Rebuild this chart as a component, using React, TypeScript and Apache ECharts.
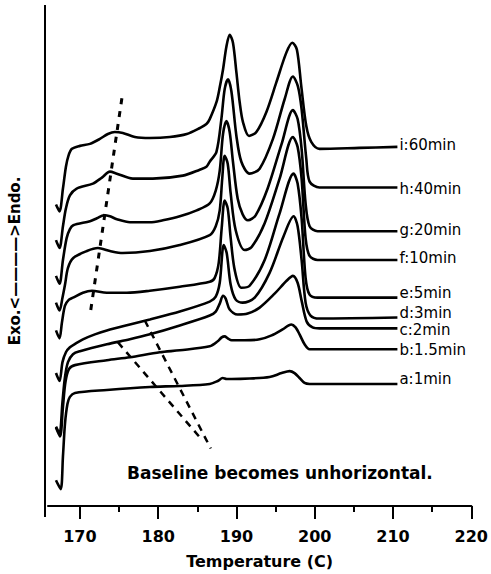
import React, { useEffect, useRef } from "react";
import * as echarts from "echarts";

// Temperature (C) vs heat flow (a.u., endo up)
const curveA: [number, number][] = [[166.94,26],[167.54,17],[167.83,50],[168.09,83],[168.41,103],[168.72,110],[169.36,114],[173.44,117],[178.93,120],[182.76,121],[186.58,123],[187.60,126],[188.24,129],[188.75,128],[189.39,128],[191.68,128.5],[194.23,130],[195.77,134],[196.79,136],[197.42,134],[198.06,129],[198.70,124],[199.34,123],[210.56,123]];
const curveB: [number, number][] = [[166.94,79],[167.45,70],[167.83,100],[168.15,125],[168.60,138],[169.36,142],[173.44,147],[176.38,150],[180.20,155],[182.76,157],[186.58,161],[187.60,166],[188.11,170],[188.49,171],[188.88,169],[189.39,167],[191.05,167],[192.96,168],[194.49,172],[195.89,178],[197.00,183],[197.55,180],[198.06,173],[198.70,163],[199.34,158],[200.61,158],[210.56,158]];
const curveC: [number, number][] = [[166.94,80],[167.39,73],[167.77,105],[168.09,130],[168.47,145],[169.11,153],[170.00,156],[173.44,163],[176.38,168],[178.93,173],[182.76,182],[186.58,192],[187.35,196],[187.86,204],[188.28,212],[188.62,209],[189.13,198],[190.15,193],[191.43,194],[192.96,200],[194.87,214],[196.40,227],[197.21,232],[197.81,225],[198.32,207],[198.96,186],[199.72,180],[200.61,179],[210.56,179]];
const curveD: [number, number][] = [[166.94,134],[167.39,126],[167.77,145],[168.21,155],[168.72,160],[169.49,164],[170.38,168],[171.91,173],[173.44,177],[176.38,183],[178.93,188],[182.76,196],[186.58,206],[187.35,211],[187.86,225],[188.37,263],[188.75,255],[189.26,223],[189.90,208],[190.79,205],[192.32,210],[194.23,235],[196.02,272],[197.30,292],[197.81,282],[198.32,248],[198.83,205],[199.46,192],[200.61,189],[210.56,190]];
const curveE: [number, number][] = [[166.94,177],[167.39,169],[167.70,185],[168.09,202],[168.60,208],[169.11,210],[170.38,215],[171.53,217],[173.44,215],[175.99,215],[178.93,217],[182.76,221],[186.58,226],[187.22,230],[187.73,245],[188.11,280],[188.49,308],[188.88,300],[189.26,270],[189.77,238],[190.62,220],[191.68,222],[193.60,248],[195.51,295],[197.30,335],[197.81,325],[198.32,290],[198.83,230],[199.34,213],[200.36,210],[210.56,210]];
const curveF: [number, number][] = [[166.94,205],[167.39,197],[167.77,210],[168.09,223],[168.47,240],[169.15,250],[170.89,257],[172.30,260],[173.83,257],[175.48,255],[178.93,257],[182.76,263],[186.58,273],[187.35,282],[187.86,298],[188.18,330],[188.49,353],[188.88,345],[189.26,315],[189.90,278],[191.05,258],[191.94,261],[193.60,285],[195.51,330],[197.21,372],[197.81,362],[198.32,330],[198.83,270],[199.34,252],[200.36,248],[210.56,248]];
const curveG: [number, number][] = [[166.94,232],[167.39,224],[167.83,248],[168.30,270],[168.72,279],[169.15,283],[171.28,287],[172.17,290],[173.06,293],[173.83,292],[174.72,289],[176.38,286],[178.93,286],[180.59,288],[182.76,292],[184.92,298],[186.58,305],[187.35,318],[187.86,338],[188.28,375],[188.71,388],[189.13,377],[189.55,347],[190.15,310],[190.79,294],[191.47,288],[192.45,293],[193.98,320],[195.77,365],[197.21,399],[197.81,390],[198.32,360],[198.83,305],[199.34,282],[200.36,277],[210.56,277]];
const curveH: [number, number][] = [[166.94,268],[167.39,260],[167.83,282],[168.21,300],[168.72,313],[169.58,320],[171.66,325],[172.81,331],[173.83,337],[174.72,335],[176.76,330],[179.31,330],[183.14,333],[185.31,339],[186.16,342],[186.58,347],[187.44,357],[188.07,390],[188.49,420],[188.92,430],[189.35,418],[189.99,373],[190.62,347],[191.68,335],[192.96,340],[194.66,370],[196.15,410],[197.21,433],[197.85,423],[198.32,400],[198.92,350],[199.34,327],[200.61,321],[210.56,321]];
const curveI: [number, number][] = [[166.94,304],[167.39,297],[167.83,320],[168.21,342],[168.53,353],[168.98,360],[170.00,363],[171.28,365],[172.55,370],[173.57,375],[174.46,377],[175.48,376],[177.02,372],[178.93,371],[181.48,372],[183.65,375],[185.31,381],[186.16,385],[186.58,390],[187.44,407],[187.86,422],[188.28,440],[188.71,463],[189.13,475],[189.55,467],[189.99,437],[190.41,407],[190.83,387],[191.60,373],[192.54,377],[193.81,397],[195.09,427],[196.37,457],[197.13,467],[197.72,460],[198.28,423],[198.92,383],[199.55,367],[200.61,360],[205.71,361],[210.56,362]];

const curveLabels = ["a:1min", "b:1.5min", "c:2min", "d:3min", "e:5min", "f:10min", "g:20min", "h:40min", "i:60min"];
const curves = [curveA, curveB, curveC, curveD, curveE, curveF, curveG, curveH, curveI];
const labelDy = [-5, 1, 2, -5, -5, -2, -1, 1, -2];

// annotation guide lines
const humpLine: [number, number][] = [[175.36, 411], [171.28, 192]];
const baselineGuide1: [number, number][] = [[174.85, 165], [185.56, 67]];
const baselineGuide2: [number, number][] = [[178.29, 187], [186.71, 58]];

const majorTicks = [170, 180, 190, 200, 210, 220];
const minorTicks = [175, 185, 195, 205, 215];
const xMin = 165.92;
const xMax = 220;

export default function App() {
  const ref = useRef<HTMLDivElement>(null);
  useEffect(() => {
    if (!ref.current) return;
    const chart = echarts.init(ref.current, null, { renderer: "svg" });
    const font = '"DejaVu Sans", sans-serif';
    const curveSeries = curves.map((c, i) => ({
      type: "line",
      name: curveLabels[i],
      data: c,
      xAxisIndex: 0,
      symbol: "none",
      smooth: 0.3,
      lineStyle: { color: "#000", width: 2.6 },
      endLabel: {
        show: true,
        formatter: curveLabels[i],
        distance: 2,
        offset: [0, labelDy[i]],
        color: "#000",
        fontFamily: font,
        fontSize: 15,
        lineHeight: 14,
      },
      z: 3,
    }));
    const guide = (d: [number, number][], dash: number[], w: number) => ({
      type: "line",
      data: d,
      symbol: "none",
      lineStyle: { color: "#000", width: w, type: dash },
      z: 4,
    });
    chart.setOption({
      animation: false,
      grid: { left: 48, right: 19, top: 5, bottom: 64 },
      xAxis: [
        {
          type: "value",
          min: xMin,
          max: xMax,
          name: "Temperature (C)",
          nameLocation: "middle",
          nameGap: 47,
          nameTextStyle: { fontFamily: font, fontWeight: "bold", fontSize: 16, color: "#000" },
          axisLine: { show: true, lineStyle: { color: "#000", width: 2 } },
          axisTick: { show: true, length: 13, lineStyle: { color: "#000", width: 2 }, customValues: majorTicks },
          axisLabel: { customValues: majorTicks, margin: 22, color: "#000", fontFamily: font, fontWeight: "bold", fontSize: 16 },
          splitLine: { show: false },
        },
        {
          type: "value",
          min: xMin,
          max: xMax,
          position: "bottom",
          axisLine: { show: false },
          axisTick: { show: true, length: 6, lineStyle: { color: "#000", width: 2 }, customValues: minorTicks },
          axisLabel: { show: false },
          splitLine: { show: false },
        },
      ],
      yAxis: {
        type: "value",
        min: 0,
        max: 505,
        axisLine: { show: false },
        axisTick: { show: false },
        axisLabel: { show: false },
        splitLine: { show: false },
      },
      series: [
        ...curveSeries,
        guide(humpLine, [6, 7], 3),
        guide(baselineGuide1, [7, 6], 2.5),
        guide(baselineGuide2, [7, 6], 2.5),
      ],
      graphic: [
        { type: "line", shape: { x1: 45, y1: 5, x2: 45, y2: 517 }, style: { stroke: "#000", lineWidth: 2 } },
        {
          type: "text",
          x: 15,
          y: 261,
          rotation: Math.PI / 2,
          style: { text: "Exo.<————>Endo.", fontFamily: font, fontWeight: "bold", fontSize: 15, fill: "#000", align: "center", verticalAlign: "middle" },
        },
        {
          type: "text",
          x: 127,
          y: 473,
          style: { text: "Baseline becomes unhorizontal.", fontFamily: font, fontWeight: "bold", fontSize: 17, fill: "#000", align: "left", verticalAlign: "middle" },
        },
      ],
    });
    return () => chart.dispose();
  }, []);
  return <div ref={ref} style={{ position: "fixed", left: 0, top: 0, width: 491, height: 574, background: "#fff" }} />;
}
